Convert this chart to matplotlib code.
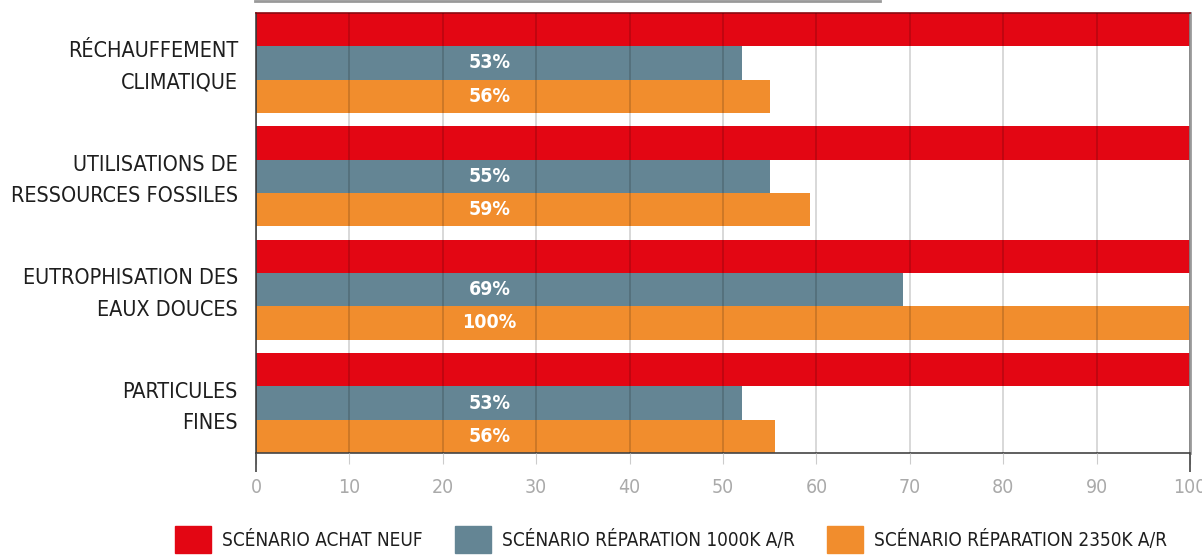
import matplotlib.pyplot as plt
from matplotlib import font_manager as fm
from matplotlib.patches import Patch
from matplotlib.lines import Line2D
import matplotlib.transforms as mtransforms
import numpy as np

# Données
categories = ['RÉCHAUFFEMENT\nCLIMATIQUE', 'UTILISATIONS DE\nRESSOURCES FOSSILES',
              'EUTROPHISATION DES\nEAUX DOUCES', 'PARTICULES\nFINES']
achat_neuf = [100, 100, 100, 100]
rep_1000k = [52, 55, 69.3, 52]
rep_2350k = [55, 59.3, 100, 55.6]
lab_1000k = ['53%', '55%', '69%', '53%']
lab_2350k = ['56%', '59%', '100%', '56%']
series_names = ['SCÉNARIO ACHAT NEUF', 'SCÉNARIO RÉPARATION 1000K A/R',
                'SCÉNARIO RÉPARATION 2350K A/R']
colors = ['#E30613', '#648594', '#F18D2D']

# chercher une police étroite (condensed) si elle existe
narrow = None
for f in fm.fontManager.ttflist:
    if 'Narrow' in f.name or 'Condensed' in f.name or f.stretch in ('condensed', 'semi-condensed'):
        narrow = f
        break
if narrow is not None:
    fam = narrow.name
    stretch = narrow.stretch
    k = 1.0
else:
    fam = 'Liberation Sans'
    stretch = 'normal'
    k = 0.85
plt.rcParams['font.family'] = [fam, 'DejaVu Sans']
plt.rcParams['font.stretch'] = stretch

fig = plt.figure(figsize=(12.02, 5.55), dpi=100)
ax = fig.add_axes([256 / 1202, 1 - 453 / 555, 934 / 1202, 440 / 555])

# position des groupes : 3 barres de hauteur 1 + un espace
pitch = 3.41
base = np.arange(len(categories)) * pitch
ax.barh(base + 0.5, achat_neuf, height=1, color=colors[0], zorder=1)
ax.barh(base + 1.5, rep_1000k, height=1, color=colors[1], zorder=1)
ax.barh(base + 2.5, rep_2350k, height=1, color=colors[2], zorder=1)

# étiquettes blanches
for b, t1, t2 in zip(base, lab_1000k, lab_2350k):
    ax.text(25, b + 1.5, t1, color='white', fontsize=14 * k, fontweight='bold',
            ha='center', va='center', zorder=3)
    ax.text(25, b + 2.5, t2, color='white', fontsize=14 * k, fontweight='bold',
            ha='center', va='center', zorder=3)

ax.set_xlim(0, 100)
ax.set_ylim(3 * pitch + 3, 0)

ax.set_yticks(base + 1.5)
ax.set_yticklabels(categories, fontsize=15.5 * k, color='#1e1e1e', linespacing=1.72)
ax.tick_params(axis='y', length=0, pad=13)
# remonter un peu les libellés
shift = mtransforms.ScaledTranslation(0, 3.5 / 100, fig.dpi_scale_trans)
for lab in ax.get_yticklabels():
    lab.set_transform(lab.get_transform() + shift)

ax.set_xticks(np.arange(0, 101, 10))
ax.tick_params(axis='x', length=8, color='#cccccc', labelsize=14 * k,
               labelcolor='#aaaaaa', pad=10)
ax.set_xticks([0, 100], minor=True)
ax.xaxis.remove_overlapping_locs = False
ax.tick_params(axis='x', which='minor', length=14, color='#444444', width=1.2)

# grille par-dessus les barres
ax.grid(axis='x', color='black', alpha=0.18, lw=1.2, zorder=2)
ax.set_axisbelow(False)

for s in ['left', 'bottom']:
    ax.spines[s].set_color('#444444')
    ax.spines[s].set_linewidth(1.2)
ax.spines['right'].set_color('#999999')
ax.spines['right'].set_linewidth(2)
ax.spines['top'].set_color('#8a0a12')
ax.spines['top'].set_linewidth(1.2)

# ligne grise en haut
fig.add_artist(Line2D([255 / 1202, 880 / 1202], [0.998, 0.998],
                      color='#999999', lw=2))

handles = [Patch(color=c) for c in colors]
fs_leg = 13.6 * k
px = fs_leg * 100 / 72
fig.legend(handles, series_names, loc='center', bbox_to_anchor=(671 / 1202, 0.028),
           ncol=3, frameon=False, fontsize=fs_leg, handlelength=36 / px,
           handleheight=35 / px, handletextpad=11 / px, columnspacing=32 / px,
           borderaxespad=0, labelcolor='#1e1e1e')

fig.savefig('out.png', dpi=100)
